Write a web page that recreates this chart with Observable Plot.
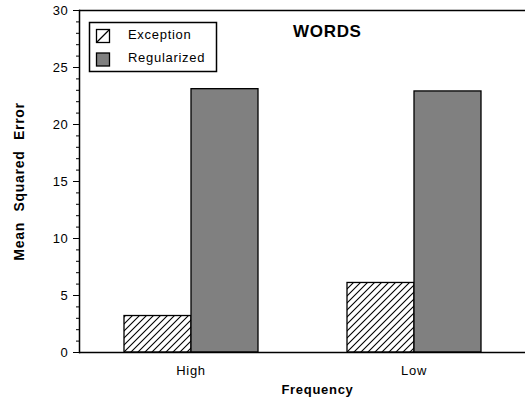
<!DOCTYPE html>
<html><head><meta charset="utf-8">
<script src="https://cdn.jsdelivr.net/npm/d3@7"></script>
<script src="https://cdn.jsdelivr.net/npm/@observablehq/plot@0.6"></script>
<style>
body{margin:0;background:#fff;}
#wrap{position:relative;width:525px;height:402px;overflow:hidden;}
#wrap > svg{position:absolute;left:0;top:0;}
#wrap text{letter-spacing:0.7px;}
g[aria-label="y-axis label"] text{font-weight:bold;font-size:14px;word-spacing:6px;}
g[aria-label="y-axis tick label"] text{letter-spacing:1.3px;}
</style></head><body>
<div id="wrap"></div>
<script>
const frequencies = ["High", "Low"];
const wordTypes = ["Exception", "Regularized"];
const exceptionValues = [3.2, 6.1];
const regularizedValues = [23.1, 22.9];
const yTicks = [0, 5, 10, 15, 20, 25, 30];
const yMinorTicks = d3.range(0, 31, 1);
const titleText = "WORDS";
const xLabel = "Frequency";
const yLabel = "Mean Squared Error";
const fills = ["url(#hatch)", "#808080"];

const data = frequencies.flatMap((f, i) => [
  {frequency: f, type: wordTypes[0], value: exceptionValues[i]},
  {frequency: f, type: wordTypes[1], value: regularizedValues[i]}
]);

const wrap = document.getElementById("wrap");

const chart = Plot.plot({
  width: 525, height: 402,
  marginLeft: 79, marginRight: 0, marginTop: 10, marginBottom: 50,
  style: {fontFamily: "'Liberation Sans', Arial, sans-serif", fontSize: "13px", color: "black", background: "transparent", overflow: "visible"},
  fx: {domain: frequencies, paddingInner: 0, paddingOuter: 0, label: null},
  x: {domain: wordTypes, paddingInner: 0, paddingOuter: 0.64, axis: null},
  y: {domain: [0, 30]},
  color: {domain: wordTypes, range: fills},
  marks: [
    Plot.barY(data, {fx: "frequency", x: "type", y: "value", fill: "type", stroke: "black", strokeWidth: 1.3}),
    Plot.ruleY([0], {strokeWidth: 1.5}),
    Plot.ruleY([30], {strokeWidth: 1.5}),
    Plot.frame({anchor: "left", facetAnchor: "left", strokeWidth: 1.5}),
    Plot.axisY(yMinorTicks, {tickSize: 3, tickFormat: () => "", label: null}),
    Plot.axisY(yTicks, {tickSize: 6, tickPadding: 5, label: yLabel, labelAnchor: "center", labelArrow: "none", labelOffset: 65}),
    Plot.axisFx({anchor: "bottom", tickSize: 0, tickPadding: 13, label: null})
  ]
});
wrap.appendChild(chart);

// overlay: pattern defs, title, legend, x label
const ov = d3.create("svg").attr("width", 525).attr("height", 402)
  .style("font-family", "'Liberation Sans', Arial, sans-serif").style("pointer-events", "none");
const pat = ov.append("defs").append("pattern").attr("id", "hatch")
  .attr("patternUnits", "userSpaceOnUse").attr("width", 7).attr("height", 7);
pat.append("rect").attr("width", 7).attr("height", 7).attr("fill", "white");
pat.append("path").attr("d", "M-1,1 l2,-2 M0,7 l7,-7 M6,8 l2,-2").attr("stroke", "black").attr("stroke-width", 1.1);

ov.append("text").attr("x", 293).attr("y", 37).attr("font-size", 17).attr("font-weight", "bold").text(titleText);

const lg = ov.append("g");
lg.append("rect").attr("x", 89.5).attr("y", 22.5).attr("width", 127).attr("height", 49)
  .attr("fill", "white").attr("stroke", "black").attr("stroke-width", 1.5);
wordTypes.forEach((t, i) => {
  const y0 = 29.5 + i * 23.5;
  lg.append("rect").attr("x", 96.5).attr("y", y0).attr("width", 13).attr("height", 13)
    .attr("fill", i === 0 ? "white" : fills[1]).attr("stroke", "black").attr("stroke-width", 1.3);
  if (i === 0) lg.append("line").attr("x1", 96.5).attr("y1", y0 + 13).attr("x2", 109.5).attr("y2", y0)
    .attr("stroke", "black").attr("stroke-width", 1.3);
  lg.append("text").attr("x", 128).attr("y", 38.5 + i * 23.5).attr("font-size", 13).text(t);
});

ov.append("text").attr("x", 317.5).attr("y", 394).attr("text-anchor", "middle")
  .attr("font-size", 13).attr("font-weight", "bold").text(xLabel);

wrap.appendChild(ov.node());
</script>
</body></html>
